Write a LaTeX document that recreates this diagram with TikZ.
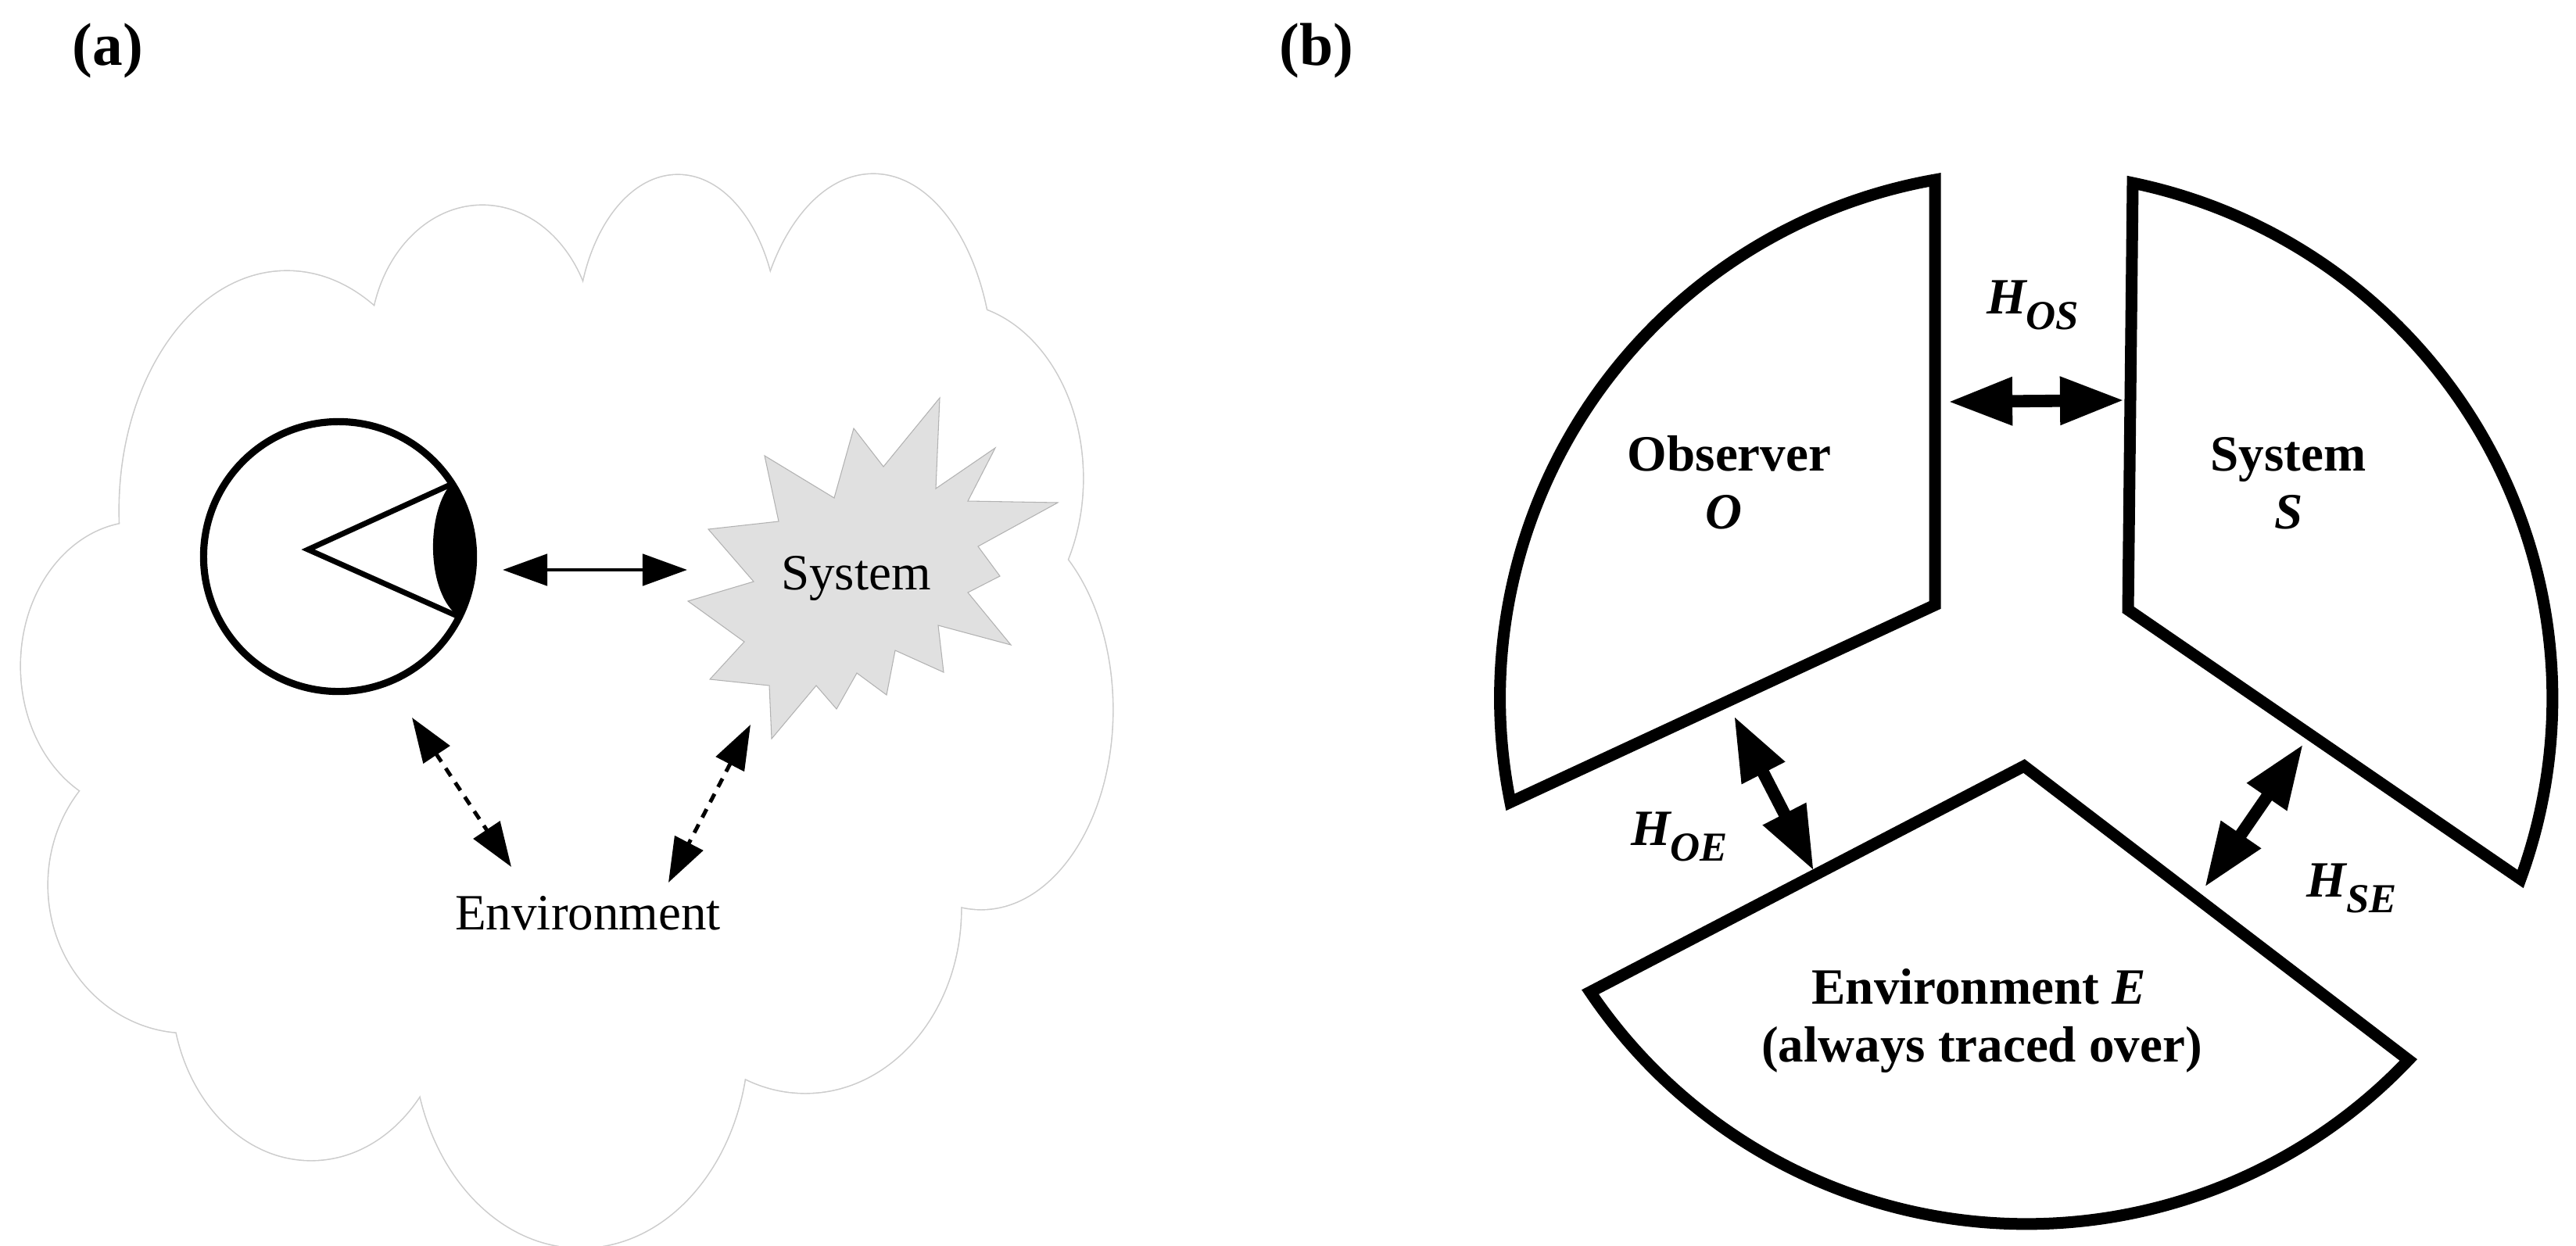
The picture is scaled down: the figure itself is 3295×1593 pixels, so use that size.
\documentclass[tikz,border=0pt]{standalone}
\usepackage{fontspec}
\setmainfont{Liberation Serif}
\usetikzlibrary{arrows.meta}
\newcommand{\Hlab}[1]{{\bfseries\itshape H}\raisebox{-5.7pt}{\fontsize{15}{15}\selectfont\bfseries\itshape #1}}
\begin{document}
\begin{tikzpicture}[x=0.01cm,y=-0.01cm,
    cloudline/.style={draw=gray!40,line width=0.9pt},
    txt/.style={font=\fontsize{18.5}{21}\selectfont,anchor=base},
    btxt/.style={font=\fontsize{18.5}{21}\selectfont\bfseries,anchor=base},
    panel/.style={font=\fontsize{22}{22}\selectfont\bfseries,anchor=base},
    piece/.style={draw,line width=4.27pt,line join=miter,fill=white},
    link/.style={{Triangle[length=5.7mm,width=4mm]}-{Triangle[length=5.7mm,width=4mm]},line width=1.4pt},
    dlink/.style={link,dash pattern=on 1.2mm off 1mm},
    biglink/.style={{Triangle[length=8.2mm,width=5.8mm]}-{Triangle[length=8.2mm,width=5.8mm]},line width=4.5pt}]
    \useasboundingbox (0,0) rectangle (3295,1593);

    % (a) the cloud
    \foreach \cx/\cy/\rx/\ry in {367/653/214/306,617/439/143/176,867/428/128/204,1117/480/153/257,
        1214/612/171/224,1255/908/168/255,1030/1163/199/235,743/1326/214/270,
        398/1265/178/219,240/1132/178/189,178/852/151/184}
        \draw[cloudline] (\cx,\cy) ellipse [x radius=\rx, y radius=\ry];
    \foreach \cx/\cy/\rx/\ry in {367/653/214/306,617/439/143/176,867/428/128/204,1117/480/153/257,
        1214/612/171/224,1255/908/168/255,1030/1163/199/235,743/1326/214/270,
        398/1265/178/219,240/1132/178/189,178/852/151/184}
        \fill[white] (\cx,\cy) ellipse [x radius=\rx, y radius=\ry];
    \fill[white] (367,653) -- (617,439) -- (867,428) -- (1117,480) -- (1214,612) -- (1255,908)
        -- (1030,1163) -- (743,1326) -- (398,1265) -- (240,1132) -- (178,852) -- cycle;

    \node[panel] (pa) at (138,83) {(a)};

    % eye
    \node [draw,circle,line width=2.6pt,minimum size=3.45cm,inner sep=0pt,fill=white] (eye) at (433,712) {};
    \draw[line width=2pt] (576,620) -- (394,703) -- (587,789);
    \fill (576,620) arc[start angle=33.3, end angle=-25.7, radius=1.72cm]
        .. controls (546,760) and (544,660) .. (576,620);

    % system
    \fill[black!12] (1202,509) -- (1197,625) -- (1273,573) -- (1238,641) -- (1353,643) -- (1251,699)
        -- (1279,737) -- (1238,758) -- (1293,825) -- (1200,800) -- (1207,860) -- (1145,832)
        -- (1134,889) -- (1096,861) -- (1070,907) -- (1044,877) -- (987,945) -- (984,877)
        -- (908,869) -- (952,821) -- (880,769) -- (964,744) -- (906,677) -- (996,667)
        -- (978,583) -- (1067,637) -- (1092,548) -- (1130,597) -- cycle;
    \draw[gray!60,line width=0.3pt] (1202,509) -- (1197,625) -- (1273,573) -- (1238,641) -- (1353,643) -- (1251,699)
        -- (1279,737) -- (1238,758) -- (1293,825) -- (1200,800) -- (1207,860) -- (1145,832)
        -- (1134,889) -- (1096,861) -- (1070,907) -- (1044,877) -- (987,945) -- (984,877)
        -- (908,869) -- (952,821) -- (880,769) -- (964,744) -- (906,677) -- (996,667)
        -- (978,583) -- (1067,637) -- (1092,548) -- (1130,597) -- cycle;
    \node[txt] (sys) at (1095,754) {System};
    \node[txt] (env) at (752,1189) {Environment};

    \coordinate (eyeR) at (643,729);
    \coordinate (sysL) at (879,729);
    \coordinate (eyeB) at (527,918);
    \coordinate (envL) at (654,1109);
    \coordinate (sysB) at (960,927);
    \coordinate (envR) at (855,1129);
    \draw[link] (eyeR) -- (sysL);
    \draw[dlink] (eyeB) -- (envL);
    \draw[dlink] (sysB) -- (envR);

    % (b)
    \node[panel] (pb) at (1684,83) {(b)};
    \draw[piece] (2475,230) arc[start angle=100, end angle=191.4, radius=6.73cm] -- (2475,774) -- cycle;
    \draw[piece] (2728,234) arc[start angle=78.3, end angle=-20.07, radius=6.73cm] -- (2722,780) -- cycle;
    \draw[piece] (2034,1269) arc[start angle=214, end angle=316.5, radius=6.73cm] -- (2589,980) -- cycle;

    \node[btxt] (obs) at (2212,602) {Observer};
    \node[btxt] (obsO) at (2205,676) {\itshape O};
    \node[btxt] (syst) at (2927,602) {System};
    \node[btxt] (systS) at (2928,676) {\itshape S};
    \node[btxt] (envr) at (2531,1284) {Environment \textit{E}};
    \node[btxt] (envrE) at (2535,1358) {(always traced over)};

    \coordinate (osL) at (2492,514);
    \coordinate (osR) at (2717,512);
    \coordinate (oeT) at (2218,916);
    \coordinate (oeB) at (2320,1114);
    \coordinate (seT) at (2946,952);
    \coordinate (seB) at (2820,1135);
    \draw[biglink] (osL) -- (osR);
    \draw[biglink] (oeT) -- (oeB);
    \draw[biglink] (seT) -- (seB);

    \node[btxt] (hos) at (2600,401) {\Hlab{OS}};
    \node[btxt] (hoe) at (2148,1081) {\Hlab{OE}};
    \node[btxt] (hse) at (3008,1147) {\Hlab{SE}};

\end{tikzpicture}
\end{document}
